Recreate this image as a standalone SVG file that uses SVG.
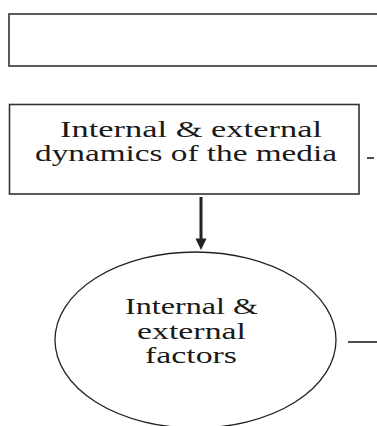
<svg xmlns="http://www.w3.org/2000/svg" width="377" height="426" viewBox="0 0 377 426">
<style>
.box{fill:#fff;stroke:#333;stroke-width:1.6}
.t{font-family:"Liberation Serif","Times New Roman",serif;font-size:23px;fill:#1a1a1a}
.ln{stroke:#222;stroke-width:1.6;fill:none}
</style>
<rect width="377" height="426" fill="#fff"/>
<g id="top-box">
<rect class="box" x="9" y="14" width="380" height="52" stroke-width="2"/>
</g>
<g id="dynamics-box">
<rect class="box" x="9.5" y="104.5" width="349.5" height="89.5" stroke="#555"/>
<text class="t" x="60" y="137" textLength="262" lengthAdjust="spacingAndGlyphs">Internal &amp; external</text>
<text class="t" x="35" y="161" textLength="302" lengthAdjust="spacingAndGlyphs">dynamics of the media</text>
</g>
<g id="factors-ellipse">
<ellipse cx="195.5" cy="340" rx="140.5" ry="88" fill="#fff" stroke="#222" stroke-width="1.3"/>
<text class="t" x="125" y="314" textLength="133" lengthAdjust="spacingAndGlyphs">Internal &amp;</text>
<text class="t" x="137" y="339" textLength="109" lengthAdjust="spacingAndGlyphs">external</text>
<text class="t" x="145" y="363" textLength="92" lengthAdjust="spacingAndGlyphs">factors</text>
</g>
<g id="connectors">
<line x1="201" y1="197" x2="201" y2="240" stroke="#222" stroke-width="3"/>
<polygon points="195.5,238.5 206.5,238.5 201,250" fill="#222"/>
<line class="ln" x1="367" y1="158" x2="374" y2="158" stroke-width="2"/>
<line class="ln" x1="348" y1="342" x2="377" y2="342"/>
</g>
</svg>
